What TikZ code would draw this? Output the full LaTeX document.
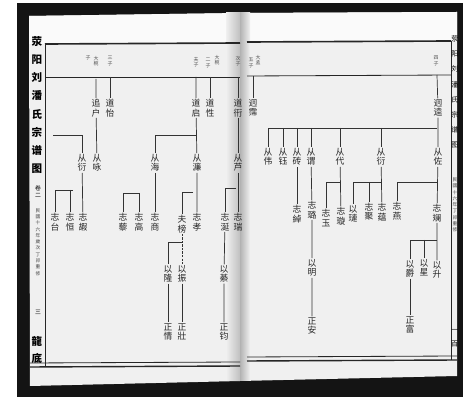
\documentclass[tikz,border=0pt]{standalone}
\usepackage{fontspec}
\newfontfamily\cjk{Noto Sans CJK SC}

\tikzset{
  ren/.style={font=\cjk\fontsize{7.5}{8}\selectfont, align=center, inner sep=0.8pt, text=black!85},
  biao/.style={font=\cjk\fontsize{4.2}{4.6}\selectfont, align=center, inner sep=0pt, text=black!70},
  bian/.style={font=\cjk\fontsize{4}{5.4}\selectfont, align=center, inner sep=0pt, text=black!75},
  xian/.style={line width=0.6pt, draw=black!80},
  kuang/.style={line width=0.7pt, draw=black!85}
}

\begin{document}
\begin{tikzpicture}[x=0.03cm, y=-0.03cm]
\useasboundingbox (0,0) rectangle (468,401);
\fill[white] (0,0) rectangle (468,401);
\fill[black!92] (17,3) rectangle (463,397);
\fill[black!6] (29,16) -- (240,13) -- (457,12) -- (457,376) -- (240,381) -- (30,386) -- cycle;
\fill[black!2] (29,16) -- (240,13) -- (457,12) -- (457,41) -- (29,44) -- cycle;
\shade[left color=black!6, right color=black!25] (226,13) rectangle (240,381);
\shade[left color=black!30, right color=black!6] (240,13) rectangle (250,381);

\draw[kuang, line width=1.4pt] (45,44) -- (240,43);
\draw[kuang, line width=1.4pt] (247,42) -- (451,41);
\draw[kuang] (45,44) -- (45,366);
\draw[kuang] (451,41) -- (451,360);
\draw[kuang] (45,77) -- (240,77);
\draw[kuang] (247,76) -- (451,75);
\draw[kuang] (30,363) -- (240,362);
\draw[kuang, line width=1.2pt] (30,367) -- (240,366);
\draw[kuang] (247,357) -- (457,356);
\draw[kuang, line width=1.2pt] (247,361) -- (457,360);

\node[font=\cjk\bfseries\fontsize{9}{15.5}\selectfont, align=center, inner sep=0pt] (shuming) at (37,105) {荥\\阳\\刘\\潘\\氏\\宗\\谱\\图};
\node[font=\cjk\fontsize{5}{6}\selectfont, align=center, inner sep=0pt] (juan) at (38,192) {卷\\二};
\node[bian] (xiuzhi) at (38,242) {民\\國\\十\\六\\年\\歲\\次\\丁\\卯\\重\\修};
\node[font=\cjk\fontsize{5}{6}\selectfont, inner sep=0pt] (yeshu) at (38,312) {三};
\node[font=\cjk\bfseries\fontsize{9}{15}\selectfont, align=center, inner sep=0pt] (tang) at (37,350) {龍\\底};
\node[font=\cjk\fontsize{6}{13}\selectfont, align=center, inner sep=0pt] (shuming2) at (455,92) {荥\\阳\\刘\\潘\\氏\\宗\\谱\\图};
\node[bian] (xiuzhi2) at (455,205) {民\\國\\十\\六\\年\\丁\\卯\\重\\修};
\node[font=\cjk\fontsize{6}{12}\selectfont, align=center, inner sep=0pt] (yeshu2) at (455,338) {一\\百};

\node[biao] (bz1) at (88,58) {子};
\node[biao] (bz2) at (96,61) {大\\椀};
\node[biao] (bz3) at (110,61) {三\\子};
\node[biao] (bz4) at (196,62) {夫\\子};
\node[biao] (bz5) at (208,63) {二\\子};
\node[biao] (bz6) at (217,60) {大\\椀};
\node[biao] (bz7) at (238,61) {次\\子};
\node[biao] (bz8) at (251,63) {五\\子};
\node[biao] (bz9) at (258,60) {大\\孟};
\node[biao] (bz10) at (436,61) {四\\子};

\node[ren] (daoyi) at (110,108) {道\\怡};
\node[ren] (zhuihu) at (96,108) {追\\户};
\node[ren] (congyong) at (97,163) {从\\咏};
\node[ren] (congyan) at (82,163) {从\\衍};
\node[ren] (zhitai) at (55,222) {志\\台};
\node[ren] (zhiheng) at (70,222) {志\\恒};
\node[ren] (zhijia) at (83,222) {志\\嘏};
\node[ren] (daoqi) at (196,108) {道\\启};
\node[ren] (daoxing) at (210,108) {道\\性};
\node[ren] (conglian) at (197,163) {从\\濂};
\node[ren] (conghai) at (155,163) {从\\海};
\node[ren] (zhili) at (123,222) {志\\藜};
\node[ren] (zhigao) at (139,222) {志\\高};
\node[ren] (zhishang) at (155,222) {志\\商};
\node[ren] (fubang) at (182,224) {夫\\榜};
\node[ren] (zhixiao) at (197,222) {志\\孝};
\node[ren] (yilong) at (168,274) {以\\隆};
\node[ren] (yizhen) at (182,274) {以\\振};
\node[ren] (zhengqing) at (168,332) {正\\情};
\node[ren] (zhengzhuang) at (182,332) {正\\壯};
\node[ren] (daoheng) at (238,108) {道\\衎};
\node[ren] (conglu) at (238,163) {从\\芦};
\node[ren] (zhiyan) at (225,222) {志\\涎};
\node[ren] (zhirui) at (238,222) {志\\瑞};
\node[ren] (yiqi) at (224,274) {以\\綦};
\node[ren] (zhengjun) at (224,332) {正\\钧};

\node[ren] (jiongpei) at (253,108) {迥\\霈};
\node[ren] (jiongkui) at (438,108) {迥\\逵};
\node[ren] (congzuo) at (438,157) {从\\佐};
\node[ren] (congwei) at (268,157) {从\\伟};
\node[ren] (congyu) at (283,157) {从\\钰};
\node[ren] (congzhuan) at (297,157) {从\\砖};
\node[ren] (congwei2) at (311,157) {从\\谓};
\node[ren] (congdai) at (340,157) {从\\代};
\node[ren] (congyan2) at (381,157) {从\\衍};
\node[ren] (zhichuo) at (297,214) {志\\綽};
\node[ren] (zhilu) at (312,210) {志\\璐};
\node[ren] (zhiyu) at (326,218) {志\\玉};
\node[ren] (zhixuan) at (341,216) {志\\璇};
\node[ren] (yilian) at (353,214) {以\\璉};
\node[ren] (zhiju) at (369,212) {志\\聚};
\node[ren] (zhiyun) at (382,212) {志\\蕴};
\node[ren] (zhiyan2) at (397,211) {志\\燕};
\node[ren] (zhilan) at (437,213) {志\\斓};
\node[ren] (yiming) at (312,268) {以\\明};
\node[ren] (zhengan) at (312,326) {正\\安};
\node[ren] (yijue) at (410,269) {以\\爵};
\node[ren] (yixing) at (424,268) {以\\星};
\node[ren] (yisheng) at (437,270) {以\\升};
\node[ren] (zhengfu) at (410,325) {正\\富};

\coordinate (hdaoyi) at (110,77);
\coordinate (hzhuihu) at (96,79);
\coordinate (hdaoqi) at (196,77);
\coordinate (hdaoxing) at (210,77);
\coordinate (hdaoheng) at (238,77);
\coordinate (hjiongpei) at (253,76);
\coordinate (hjiongkui) at (437,75);

\draw[xian] (hdaoyi) -- (daoyi);
\draw[xian] (hzhuihu) -- (zhuihu) -- (congyong);
\coordinate (fcongyan) at (53,135);
\draw[xian] (fcongyan) -| (congyan);
\draw[xian] (congyan) -- (zhijia);
\coordinate (fzhi1) at (73,190);
\draw[xian] (fzhi1) -| (zhitai);
\draw[xian] (zhiheng.north |- fzhi1) -- (zhiheng);

\draw[xian] (hdaoqi) -- (daoqi) -- (conglian) -- (zhixiao);
\draw[xian] (hdaoxing) -- (daoxing);
\coordinate (fconghai) at (196,135);
\draw[xian] (fconghai) -| (conghai);
\draw[xian] (conghai) -- (zhishang);
\coordinate (fzhi2) at (139,193);
\draw[xian] (fzhi2) -| (zhili);
\draw[xian] (fzhi2) -- (zhigao);
\coordinate (fzhi3) at (193,192);
\draw[xian] (fzhi3) -| (fubang);
\coordinate (fyi1) at (182,242);
\draw[xian] (fyi1) -| (yilong);
\draw[xian, dash pattern=on 2pt off 1pt] (fubang) -- (yizhen);
\draw[xian] (yilong) -- (zhengqing);
\draw[xian] (yizhen) -- (zhengzhuang);
\draw[xian] (hdaoheng) -- (daoheng) -- (conglu) -- (zhirui);
\coordinate (fzhi4) at (236,188);
\draw[xian] (fzhi4) -| (zhiyan);
\draw[xian] (zhiyan) -- (yiqi) -- (zhengjun);

\draw[xian] (hjiongpei) -- (jiongpei);
\draw[xian] (hjiongkui) -- (jiongkui) -- (congzuo) -- (zhilan) -- (yisheng);
\coordinate (fcong) at (437,128);
\draw[xian] (fcong) -| (congwei);
\foreach \n in {congyu,congzhuan,congwei2,congdai,congyan2}
  \draw[xian] (\n.north |- fcong) -- (\n);
\draw[xian] (congzhuan) -- (zhichuo);
\draw[xian] (congwei2) -- (zhilu) -- (yiming) -- (zhengan);
\draw[xian] (congdai) -- (zhixuan);
\coordinate (fzhi5) at (340,182);
\draw[xian] (fzhi5) -| (zhiyu);
\draw[xian] (congyan2) -- (zhiyun);
\coordinate (fzhi6) at (381,182);
\draw[xian] (fzhi6) -| (yilian);
\draw[xian] (zhiju.north |- fzhi6) -- (zhiju);
\coordinate (fzhi7) at (437,182);
\draw[xian] (fzhi7) -| (zhiyan2);
\coordinate (fyi2) at (437,240);
\draw[xian] (fyi2) -| (yijue);
\draw[xian] (yixing.north |- fyi2) -- (yixing);
\draw[xian] (yijue) -- (zhengfu);
\end{tikzpicture}
\end{document}
